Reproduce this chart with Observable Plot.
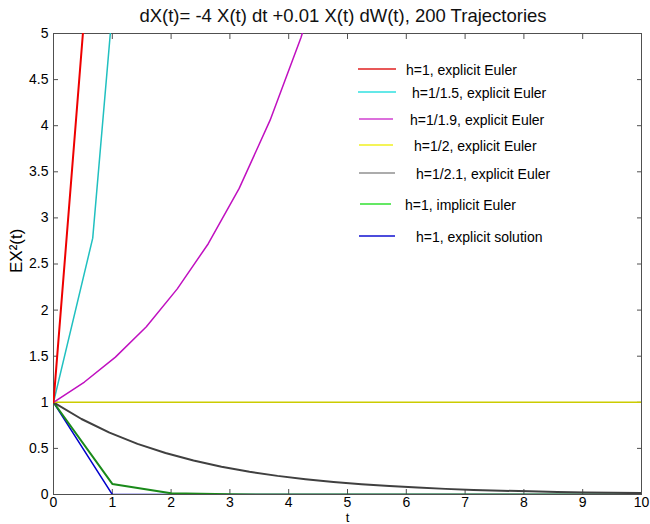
<!DOCTYPE html>
<html><head><meta charset="utf-8">
<script src="https://cdn.jsdelivr.net/npm/d3@7"></script>
<script src="https://cdn.jsdelivr.net/npm/@observablehq/plot@0.6"></script>
<style>
body{margin:0;background:#fff;font-family:Arial,"Liberation Sans",sans-serif;}
#wrap{position:relative;width:650px;height:524px;overflow:hidden;background:#fff}
#title{height:26px;line-height:32px;font-size:18.5px;text-align:center;padding-left:36px;color:#111;white-space:nowrap}
#legend{position:absolute;left:0;top:0;width:650px;height:524px;pointer-events:none}
</style></head><body>
<div id="wrap"><div id="title"></div><div id="chart"></div><svg id="legend" width="650" height="524"></svg></div>
<script>
const titleText = "dX(t)= -4 X(t) dt +0.01 X(t) dW(t), 200 Trajectories";
const xLabel = "t";
const yLabel = "EX\u00B2(t)";
const xTicks = [0,1,2,3,4,5,6,7,8,9,10];
const yTicks = [0,0.5,1,1.5,2,2.5,3,3.5,4,4.5,5];

const seriesNames = ["h=1, explicit Euler","h=1/1.5, explicit Euler","h=1/1.9, explicit Euler","h=1/2, explicit Euler","h=1/2.1, explicit Euler","h=1, implicit Euler","h=1, explicit solution"];

const tRed = [0, 1, 2];
const vRed = [1, 9, 81];
const tCyan = [0, 0.667, 1.333];
const vCyan = [1, 2.78, 7.72];
const tMag = [0, 0.526, 1.053, 1.579, 2.105, 2.632, 3.158, 3.684, 4.211, 4.737];
const vMag = [1, 1.22, 1.49, 1.82, 2.23, 2.72, 3.32, 4.06, 4.96, 6.06];
const tYel = [0,0.5,1,1.5,2,2.5,3,3.5,4,4.5,5,5.5,6,6.5,7,7.5,8,8.5,9,9.5,10];
const vYel = [1,1,1,1,1,1,1,1,1,1,1,1,1,1,1,1,1,1,1,1,1];
const tGray = [0,0.476,0.952,1.429,1.905,2.381,2.857,3.333,3.810,4.286,4.762,5.238,5.714,6.190,6.667,7.143,7.619,8.095,8.571,9.048,9.524,10];
const vGray = [1,0.819,0.671,0.549,0.450,0.368,0.302,0.247,0.202,0.166,0.136,0.111,0.091,0.075,0.061,0.050,0.041,0.034,0.028,0.023,0.018,0.015];
const tGreen = [0,1,2,3,4,5,6,7,8,9,10];
const vGreen = [1,0.115,0.013,0.0015,0,0,0,0,0,0,0];
const tBlue = [0,1,2,3,4,5,6,7,8,9,10];
const vBlue = [1,0,0,0,0,0,0,0,0,0,0];

// styles
const lineColors = ["#ee0000","#20c0c0","#c010c0","#cccc00","#404040","#1a8a1a","#0000cc"];
const legendColors = ["#e02020","#30e0e0","#d040d0","#f0f020","#909090","#30e030","#1010d0"];
const lineWidths = [2,1.5,1.5,1.5,2,2,1.5];
const legendRowY = [69,92,119,145,173,204,236];
const legendTextX = [406,412,410,414,416,405,416];
const legendLineX = [[358,396],[358,396],[359,393],[359,393],[359,395],[360,391],[359,395]];

const tArr = [tRed,tCyan,tMag,tYel,tGray,tGreen,tBlue];
const vArr = [vRed,vCyan,vMag,vYel,vGray,vGreen,vBlue];
const series = seriesNames.map((name,i)=>({name, rows: tArr[i].map((t,j)=>({t, v: vArr[i][j]}))}));
const drawOrder = [6,5,4,3,2,1,0];

document.getElementById("title").textContent = titleText;

const frameColor = "#505050";
const chart = Plot.plot({
  width: 650, height: 498,
  marginTop: 7, marginBottom: 30, marginLeft: 53, marginRight: 9,
  style: {fontFamily: "Arial, 'Liberation Sans', sans-serif", fontSize: "14px", color: "#000", background: "#fff"},
  x: {domain: [0,10]},
  y: {domain: [0,5]},
  marks: [
    Plot.frame({stroke: frameColor}),
    Plot.axisX({ticks: xTicks, anchor:"bottom", tickSize: -5, tickFormat: () => "", stroke: frameColor, label: null}),
    Plot.axisX({ticks: xTicks, anchor:"top", tickSize: -5, tickFormat: () => "", stroke: frameColor, label: null}),
    Plot.axisY({ticks: yTicks, anchor:"left", tickSize: -5, tickFormat: () => "", stroke: frameColor, label: null}),
    Plot.axisY({ticks: yTicks, anchor:"right", tickSize: -5, tickFormat: () => "", stroke: frameColor, label: null}),
    ...drawOrder.map(i => Plot.line(series[i].rows, {x:"t", y:"v", stroke: lineColors[i], strokeWidth: lineWidths[i], clip: true})),
    Plot.axisX({ticks: xTicks, anchor:"bottom", tickSize: 0, tickPadding: 3, tickFormat: d => String(d), label: null, fill: "#000"}),
    Plot.axisY({ticks: yTicks, anchor:"left", tickSize: 0, tickPadding: 5, tickFormat: d => String(d), label: null, fill: "#000"}),
    Plot.text([xLabel], {frameAnchor: "bottom", dy: 27, fontSize: 13, fill: "#000"}),
    Plot.text([yLabel], {frameAnchor: "left", dx: -37, dy: 9, rotate: -90, fontSize: 17, fill: "#000"})
  ]
});
document.getElementById("chart").appendChild(chart);

const leg = d3.select("#legend");
seriesNames.forEach((name,i)=>{
  leg.append("line").attr("x1", legendLineX[i][0]).attr("x2", legendLineX[i][1])
    .attr("y1", legendRowY[i]).attr("y2", legendRowY[i])
    .attr("stroke", legendColors[i]).attr("stroke-width", 1.5);
  leg.append("text").attr("x", legendTextX[i]).attr("y", legendRowY[i] + 2)
    .attr("dominant-baseline", "middle").attr("font-size", 14)
    .attr("font-family", "Arial, 'Liberation Sans', sans-serif").attr("fill", "#000")
    .text(name);
});
</script></body></html>
